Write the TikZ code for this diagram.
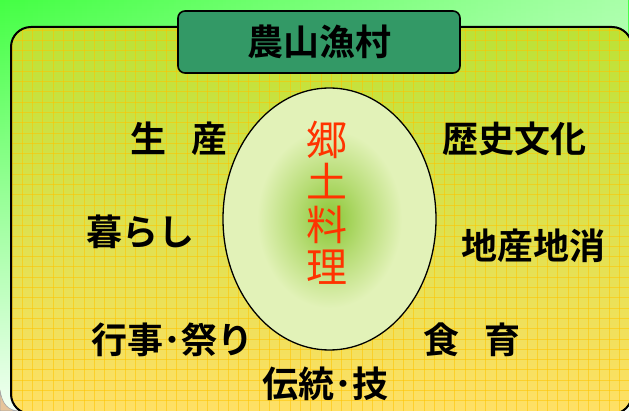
\documentclass[tikz,border=0pt]{standalone}
\usepackage{fontspec}
\newfontfamily\cjk{Noto Sans CJK JP}[BoldFont={Noto Sans CJK JP Bold}]
\usetikzlibrary{fadings,shapes.geometric}
\definecolor{bgtop}{HTML}{44FF44}
\definecolor{bgbot}{HTML}{F2FFF2}
\definecolor{rtop}{HTML}{BCE236}
\definecolor{rmid}{HTML}{DCE650}
\definecolor{rbot}{HTML}{FFE066}
\definecolor{gridc}{HTML}{FFC400}
\definecolor{titlegreen}{HTML}{339966}
\definecolor{eggC}{HTML}{8AC634}
\definecolor{eggM}{HTML}{B6DC74}
\definecolor{eggO}{HTML}{E2F2B8}
\definecolor{kyodo}{HTML}{FF3300}
\definecolor{tanc}{HTML}{E6C49A}
\tikzfading[name=fadeR, left color=transparent!100, right color=transparent!0]
\pgfdeclareradialshading{egg}{\pgfpoint{0bp}{0bp}}{color(0bp)=(eggC); color(8bp)=(eggM); color(17bp)=(eggO); color(25bp)=(eggO); color(50bp)=(eggO)}
\tikzset{
  lab/.style={font=\cjk\bfseries\fontsize{36}{38}\selectfont, text=black, inner sep=0pt},
}
\begin{document}
\begin{tikzpicture}[x=1pt,y=-1pt]
\useasboundingbox (0,0) rectangle (629,411);
% background
\shade[top color=bgtop, bottom color=bgbot] (0,0) rectangle (629,411);
\fill[white, path fading=fadeR, fill opacity=0.55] (0,0) rectangle (629,411);
\fill[tanc, draw=gray!70, line width=0.6pt] (0,411) -- (0,390) .. controls (2,404) and (8,411) .. (20,411) -- cycle;
% main panel
\shade[top color=rtop, middle color=rmid, bottom color=rbot, rounded corners=20pt] (11,27) rectangle (632,414);
\begin{scope}
  \clip[rounded corners=20pt] (11,27) rectangle (632,414);
  \foreach \i in {0,...,62} {
    \draw[gridc, line width=0.9pt, opacity=0.55] (12+\i*10.3,20) -- (12+\i*10.3,420);
  }
  \foreach \j in {0,...,38} {
    \draw[gridc, line width=0.9pt, opacity=0.55] (0,30+\j*10.3) -- (640,30+\j*10.3);
  }
\end{scope}
\draw[black, line width=2pt, rounded corners=20pt] (11,27) rectangle (632,414);
% title
\node[draw=black, line width=1.6pt, fill=titlegreen, rounded corners=7pt,
      minimum width=282pt, minimum height=62pt, inner sep=0pt,
      font=\cjk\bfseries\fontsize{36}{38}\selectfont] (title) at (319,42) {農山漁村};
% egg
\node[ellipse, draw=black, line width=1.3pt, shading=egg,
      minimum width=213pt, minimum height=262pt, inner sep=0pt] (egg) at (329.5,219) {};
\node[align=center, text=kyodo, inner sep=0pt,
      font=\cjk\fontsize{41}{42.5}\selectfont] (kyodo) at (327,203) {郷\\土\\料\\理};
% labels
\node[lab] (seisan) at (179,139) {生\hspace{0.7em}産};
\node[lab] (rekishi) at (514,139) {歴史文化};
\node[lab] (kurashi) at (140,232) {暮らし};
\node[lab] (chisan) at (533,246) {地産地消};
\node[lab] (gyoji) at (172,340) {行事･祭り};
\node[lab] (shokuiku) at (472,340) {食\hspace{0.7em}育};
\node[lab] (dento) at (325,384) {伝統･技};
\end{tikzpicture}
\end{document}
